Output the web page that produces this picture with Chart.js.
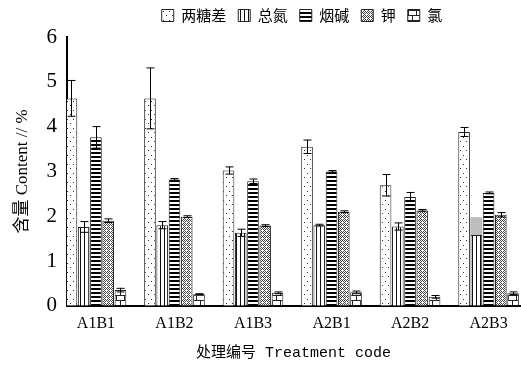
<!DOCTYPE html>
<html>
<head>
<meta charset="utf-8">
<script src="https://cdn.jsdelivr.net/npm/chart.js@4.4.1/dist/chart.umd.min.js"></script>
<style>
  html, body { margin: 0; padding: 0; background: #fff; }
  #wrap { width: 521px; height: 365px; }
</style>
</head>
<body>
<div id="wrap"><canvas id="chart" width="521" height="365"></canvas></div>
<script>
// --- data ---
const categories = ['A1B1', 'A1B2', 'A1B3', 'A2B1', 'A2B2', 'A2B3'];
const seriesNames = ['两糖差', '总氮', '烟碱', '钾', '氯'];

const sugarDiff = [4.63, 4.63, 3.02, 3.55, 2.69, 3.88];
const sugarDiffErr = [0.40, 0.68, 0.08, 0.15, 0.24, 0.10];
const totalN = [1.76, 1.80, 1.63, 1.80, 1.77, 1.58];
const totalNErr = [0.12, 0.08, 0.08, 0.02, 0.08, 0];
const totalNGrey = [0, 0, 0, 0, 0, 0.39];
const nicotine = [3.76, 2.82, 2.78, 3.00, 2.43, 2.52];
const nicotineErr = [0.24, 0.02, 0.05, 0.02, 0.10, 0.02];
const potassium = [1.90, 1.99, 1.79, 2.10, 2.13, 2.03];
const potassiumErr = [0.04, 0.02, 0.02, 0.02, 0.02, 0.05];
const chloride = [0.35, 0.26, 0.29, 0.30, 0.20, 0.28];
const chlorideErr = [0.04, 0.01, 0.02, 0.03, 0.03, 0.03];

const yTicks = [0, 1, 2, 3, 4, 5, 6];

// --- fill patterns ---
function makePattern(w, h, draw) {
    const c = document.createElement('canvas');
    c.width = w; c.height = h;
    const g = c.getContext('2d');
    g.fillStyle = '#fff';
    g.fillRect(0, 0, w, h);
    draw(g);
    return g.createPattern(c, 'repeat');
}
const ctx = document.getElementById('chart').getContext('2d');

const dotFill = makePattern(6, 9, g => {
    g.fillStyle = '#333';
    g.fillRect(1, 2, 1, 1);
    g.fillRect(4, 6, 1, 1);
});
const vlineFill = makePattern(4, 2, g => {
    g.fillStyle = '#111';
    g.fillRect(0, 0, 1, 2);
});
const hlineFill = makePattern(2, 4, g => {
    g.fillStyle = '#000';
    g.fillRect(0, 0, 2, 2);
});
const crossFill = makePattern(4, 4, g => {
    g.fillStyle = '#444';
    g.fillRect(0, 0, 1, 1);
    g.fillRect(2, 0, 1, 1);
    g.fillRect(1, 1, 1, 1);
    g.fillRect(3, 1, 1, 1);
    g.fillRect(0, 2, 1, 1);
    g.fillRect(1, 3, 1, 1);
    g.fillRect(3, 3, 1, 1);
});
const brickFill = makePattern(8, 10, g => {
    g.fillStyle = '#222';
    g.fillRect(0, 0, 8, 1);
    g.fillRect(0, 5, 8, 1);
    g.fillRect(0, 0, 1, 5);
    g.fillRect(4, 5, 1, 5);
});

const pts = vals => vals.map((v, i) => ({ x: i, y: v }));

const errorSets = {
    0: sugarDiffErr,
    1: totalNErr,
    3: nicotineErr,
    4: potassiumErr,
    5: chlorideErr
};

// error bars drawn over the bars
const errorBars = {
    id: 'errorBars',
    afterDatasetsDraw(chart) {
        const g = chart.ctx;
        const yScale = chart.scales.y;
        g.save();
        g.strokeStyle = '#000';
        g.lineWidth = 1;
        Object.keys(errorSets).forEach(di => {
            const meta = chart.getDatasetMeta(+di);
            const errs = errorSets[di];
            const vals = chart.data.datasets[di].data;
            meta.data.forEach((bar, i) => {
                const e = errs[i];
                if (!e) return;
                const v = vals[i].y;
                const top = yScale.getPixelForValue(v + e);
                const bot = yScale.getPixelForValue(v - e);
                const x = Math.round(bar.x) + 0.5;
                const cap = 4;
                g.beginPath();
                g.moveTo(x, top); g.lineTo(x, bot);
                g.moveTo(x - cap, top); g.lineTo(x + cap, top);
                g.moveTo(x - cap, bot); g.lineTo(x + cap, bot);
                g.stroke();
            });
        });
        g.restore();
    }
};

// legend sits a bit right of the canvas centre in the figure
const shiftLegend = {
    id: 'shiftLegend',
    afterLayout(chart) {
        chart.legend.left += 38;
        chart.legend.right += 38;
        chart.legend.top -= 4;
        chart.legend.bottom -= 4;
    }
};

const barStyle = { borderColor: '#222', borderWidth: 1, barPercentage: 0.95, categoryPercentage: 0.78 };

new Chart(ctx, {
    type: 'bar',
    data: {
        datasets: [
            { label: seriesNames[0], data: pts(sugarDiff), backgroundColor: dotFill, stack: 'a', ...barStyle },
            { label: seriesNames[1], data: pts(totalN), backgroundColor: vlineFill, stack: 'b', ...barStyle },
            { label: 'grey', data: pts(totalNGrey), backgroundColor: '#bdbdbd', stack: 'b', ...barStyle, borderWidth: 0.5 },
            { label: seriesNames[2], data: pts(nicotine), backgroundColor: hlineFill, stack: 'c', ...barStyle },
            { label: seriesNames[3], data: pts(potassium), backgroundColor: crossFill, stack: 'd', ...barStyle },
            { label: seriesNames[4], data: pts(chloride), backgroundColor: brickFill, stack: 'e', ...barStyle }
        ]
    },
    options: {
        responsive: false,
        animation: false,
        layout: { padding: { top: 0, right: 1, left: 8, bottom: 3 } },
        plugins: {
            legend: {
                position: 'top',
                align: 'center',
                labels: {
                    filter: item => item.text !== 'grey',
                    boxWidth: 12,
                    boxHeight: 12,
                    padding: 12,
                    color: '#000',
                    font: { family: '"Noto Sans CJK SC"', size: 15 }
                }
            },
            tooltip: { enabled: false }
        },
        scales: {
            x: {
                type: 'linear',
                offset: false,
                min: -0.37,
                max: 5.4,
                grid: { display: false, drawTicks: false },
                border: { color: '#000', width: 2 },
                ticks: {
                    stepSize: 1,
                    includeBounds: false,
                    autoSkip: false,
                    maxRotation: 0,
                    padding: 8,
                    color: '#000',
                    font: { family: '"Liberation Serif"', size: 16 },
                    callback: v => (Number.isInteger(v) && categories[v]) ? categories[v] : ''
                },
                title: {
                    display: true,
                    text: '处理编号 Treatment code',
                    color: '#000',
                    padding: { top: 3, bottom: 0 },
                    font: { family: '"Liberation Mono", "Noto Sans CJK SC"', size: 15 }
                }
            },
            y: {
                min: 0,
                max: 6,
                afterBuildTicks: s => { s.ticks = yTicks.map(v => ({ value: v })); },
                grid: { display: false, drawTicks: true, tickLength: 4 },
                border: { color: '#000', width: 2 },
                ticks: {
                    color: '#000',
                    padding: 6,
                    font: { family: '"Liberation Serif"', size: 21 }
                },
                title: {
                    display: true,
                    text: '含量 Content // %',
                    color: '#000',
                    padding: { bottom: 8 },
                    font: { family: '"Liberation Serif", "Noto Sans CJK SC"', size: 17 }
                }
            }
        }
    },
    plugins: [errorBars, shiftLegend]
});
</script>
</body>
</html>
